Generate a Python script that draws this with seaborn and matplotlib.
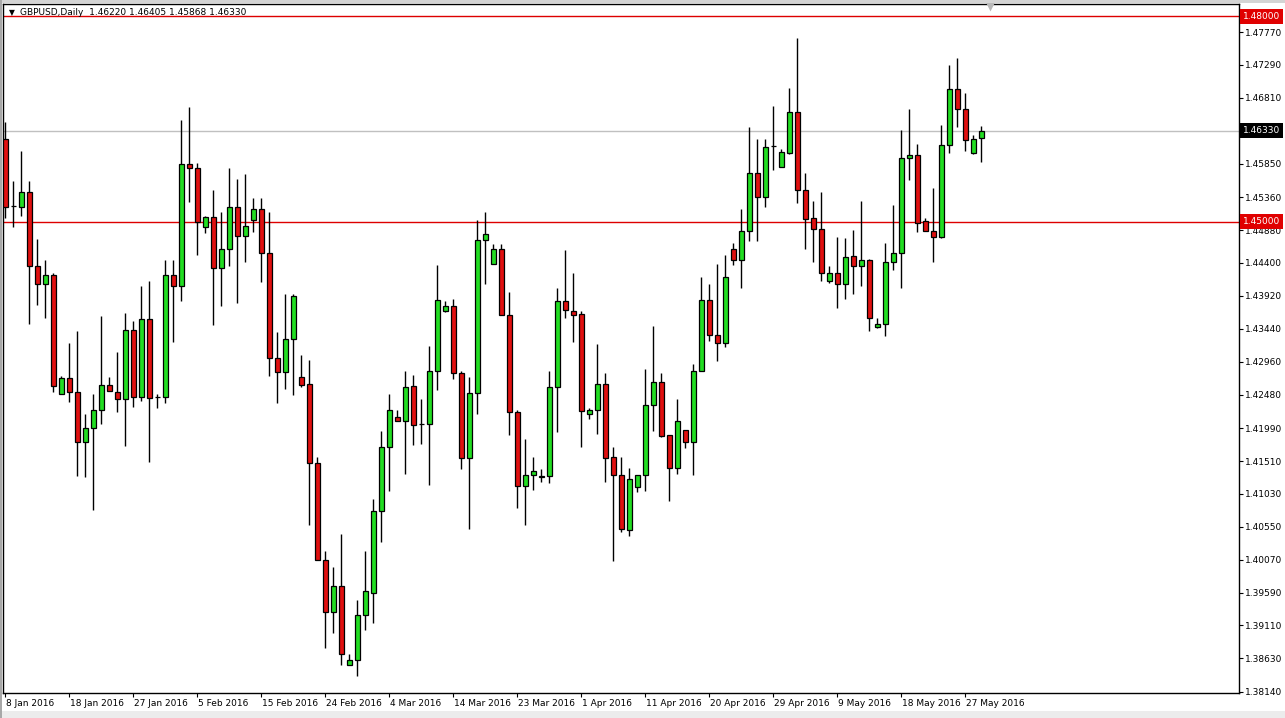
import numpy as np
import pandas as pd
import matplotlib
matplotlib.use("Agg")
import matplotlib.pyplot as plt
import matplotlib.transforms as mtransforms
from matplotlib.patches import Rectangle
import seaborn as sns

# ---------------- data (GBPUSD daily) ----------------
opens = [1.4621, 1.4523, 1.4522, 1.4543, 1.4435, 1.4409, 1.4423, 1.4249, 1.4272, 1.4251,
         1.4179, 1.4199, 1.4225, 1.4262, 1.4252, 1.4241, 1.4342, 1.4244, 1.4358, 1.4245,
         1.4244, 1.4423, 1.4406, 1.4585, 1.4578, 1.4493, 1.4507, 1.4433, 1.4460, 1.4521,
         1.4479, 1.4503, 1.4519, 1.4454, 1.4302, 1.4281, 1.4329, 1.4273, 1.4263, 1.4148,
         1.4006, 1.3930, 1.3968, 1.3853, 1.3861, 1.3926, 1.3959, 1.4078, 1.4172, 1.4215,
         1.4210, 1.4260, 1.4205, 1.4205, 1.4283, 1.4370, 1.4377, 1.4279, 1.4155, 1.4250,
         1.4474, 1.4439, 1.4461, 1.4364, 1.4222, 1.4115, 1.4131, 1.4127, 1.4129, 1.4259,
         1.4384, 1.4370, 1.4365, 1.4219, 1.4225, 1.4263, 1.4157, 1.4131, 1.4051, 1.4113,
         1.4131, 1.4233, 1.4266, 1.4189, 1.4141, 1.4196, 1.4179, 1.4283, 1.4386, 1.4335,
         1.4323, 1.4461, 1.4444, 1.4486, 1.4572, 1.4537, 1.4610, 1.4580, 1.4601, 1.4660,
         1.4546, 1.4505, 1.4490, 1.4414, 1.4425, 1.4410, 1.4450, 1.4435, 1.4444, 1.4346,
         1.4351, 1.4442, 1.4455, 1.4593, 1.4598, 1.4501, 1.4487, 1.4478, 1.4612, 1.4694,
         1.4665, 1.4601, 1.46220]
highs = [1.4646, 1.4559, 1.4604, 1.4560, 1.4475, 1.4445, 1.4426, 1.4275, 1.4323, 1.4341,
         1.4220, 1.4249, 1.4363, 1.4273, 1.4310, 1.4367, 1.4356, 1.4407, 1.4413, 1.4249,
         1.4444, 1.4444, 1.4649, 1.4668, 1.4586, 1.4509, 1.4547, 1.4515, 1.4578, 1.4563,
         1.4570, 1.4535, 1.4535, 1.4514, 1.4339, 1.4394, 1.4394, 1.4306, 1.4298, 1.4157,
         1.4019, 1.3997, 1.4044, 1.3869, 1.3948, 1.4019, 1.4095, 1.4195, 1.4249, 1.4226,
         1.4283, 1.4277, 1.4242, 1.4319, 1.4437, 1.4384, 1.4388, 1.4283, 1.4273, 1.4503,
         1.4514, 1.4467, 1.4467, 1.4397, 1.4226, 1.4183, 1.4157, 1.4140, 1.4282, 1.4404,
         1.4459, 1.4426, 1.4370, 1.4228, 1.4322, 1.4279, 1.4172, 1.4157, 1.4141, 1.4131,
         1.4286, 1.4348, 1.4279, 1.4189, 1.4242, 1.4196, 1.4293, 1.4419, 1.4410, 1.4439,
         1.4451, 1.4469, 1.4519, 1.4639, 1.4621, 1.4621, 1.4669, 1.4606, 1.4695, 1.4768,
         1.4572, 1.4530, 1.4543, 1.4435, 1.4478, 1.4477, 1.4488, 1.4530, 1.4446, 1.4359,
         1.4469, 1.4524, 1.4634, 1.4664, 1.4613, 1.4505, 1.4549, 1.4642, 1.4729, 1.4739,
         1.4688, 1.4627, 1.46405]
lows = [1.4506, 1.4493, 1.4509, 1.4351, 1.4378, 1.4360, 1.4251, 1.4249, 1.4237, 1.4129,
        1.4127, 1.4080, 1.4205, 1.4253, 1.4223, 1.4173, 1.4230, 1.4239, 1.4150, 1.4228,
        1.4236, 1.4325, 1.4384, 1.4529, 1.4451, 1.4484, 1.4349, 1.4377, 1.4435, 1.4382,
        1.4441, 1.4485, 1.4412, 1.4275, 1.4236, 1.4256, 1.4248, 1.4259, 1.4057, 1.4006,
        1.3878, 1.3900, 1.3853, 1.3853, 1.3837, 1.3904, 1.3914, 1.4033, 1.4107, 1.4210,
        1.4132, 1.4174, 1.4176, 1.4116, 1.4254, 1.4368, 1.4271, 1.4140, 1.4052, 1.4220,
        1.4409, 1.4439, 1.4364, 1.4189, 1.4082, 1.4057, 1.4108, 1.4121, 1.4119, 1.4194,
        1.4359, 1.4325, 1.4172, 1.4212, 1.4191, 1.4121, 1.4005, 1.4048, 1.4041, 1.4106,
        1.4107, 1.4195, 1.4186, 1.4092, 1.4132, 1.4170, 1.4131, 1.4283, 1.4326, 1.4297,
        1.4318, 1.4437, 1.4403, 1.4472, 1.4472, 1.4522, 1.4575, 1.4580, 1.4599, 1.4528,
        1.4460, 1.4442, 1.4413, 1.4411, 1.4374, 1.4388, 1.4394, 1.4406, 1.4341, 1.4345,
        1.4333, 1.4430, 1.4403, 1.4561, 1.4485, 1.4487, 1.4441, 1.4476, 1.4601, 1.4639,
        1.4603, 1.4599, 1.45868]
closes = [1.4522, 1.4523, 1.4543, 1.4435, 1.4409, 1.4423, 1.4260, 1.4272, 1.4251, 1.4179,
          1.4199, 1.4225, 1.4262, 1.4253, 1.4241, 1.4342, 1.4244, 1.4358, 1.4243, 1.4245,
          1.4423, 1.4406, 1.4585, 1.4578, 1.4500, 1.4507, 1.4433, 1.4460, 1.4521, 1.4479,
          1.4494, 1.4519, 1.4454, 1.4302, 1.4281, 1.4329, 1.4392, 1.4262, 1.4148, 1.4006,
          1.3930, 1.3968, 1.3870, 1.3861, 1.3927, 1.3961, 1.4078, 1.4172, 1.4226, 1.4210,
          1.4259, 1.4204, 1.4205, 1.4283, 1.4386, 1.4377, 1.4279, 1.4155, 1.4250, 1.4474,
          1.4483, 1.4461, 1.4364, 1.4222, 1.4115, 1.4131, 1.4136, 1.4129, 1.4259, 1.4384,
          1.4371, 1.4364, 1.4224, 1.4226, 1.4263, 1.4155, 1.4131, 1.4052, 1.4125, 1.4131,
          1.4233, 1.4266, 1.4188, 1.4141, 1.4209, 1.4179, 1.4283, 1.4386, 1.4335, 1.4323,
          1.4420, 1.4444, 1.4486, 1.4572, 1.4537, 1.4609, 1.4610, 1.4602, 1.4660, 1.4546,
          1.4504, 1.4490, 1.4426, 1.4425, 1.4410, 1.4449, 1.4435, 1.4444, 1.4359, 1.4351,
          1.4442, 1.4455, 1.4593, 1.4597, 1.4498, 1.4487, 1.4478, 1.4612, 1.4694, 1.4665,
          1.4619, 1.4621, 1.46330]

date_labels = ["8 Jan 2016", "18 Jan 2016", "27 Jan 2016", "5 Feb 2016", "15 Feb 2016",
               "24 Feb 2016", "4 Mar 2016", "14 Mar 2016", "23 Mar 2016", "1 Apr 2016",
               "11 Apr 2016", "20 Apr 2016", "29 Apr 2016", "9 May 2016", "18 May 2016",
               "27 May 2016"]
bars_per_label = 8
price_ticks = [1.47770, 1.47290, 1.46810, 1.46330, 1.45850, 1.45360, 1.44880, 1.44400,
               1.43920, 1.43440, 1.42960, 1.42480, 1.41990, 1.41510, 1.41030, 1.40550,
               1.40070, 1.39590, 1.39110, 1.38630, 1.38140]
level_lines = [1.48000, 1.45000]
bid_price = 1.46330
header = "GBPUSD,Daily  1.46220 1.46405 1.45868 1.46330"

df = pd.DataFrame({"open": opens, "high": highs, "low": lows, "close": closes})
df["pos"] = np.arange(len(df))

# ---------------- style ----------------
sns.set_theme(style="white")
plt.rcParams["font.family"] = ["DejaVu Sans"]
FS = 6.5
BULL = "#22dd22"
BEAR = "#e01010"
LEVEL = "#dd0000"

W, H = 1285, 718
fig = plt.figure(figsize=(W / 100, H / 100), dpi=100)
fig.patch.set_facecolor("white")

# window chrome
fig.patches.append(Rectangle((0, 1 - 3 / H), 1, 3 / H, transform=fig.transFigure,
                             fc="#d4d4d4", ec="none", zorder=0))
fig.patches.append(Rectangle((0, 0), 1, 7 / H, transform=fig.transFigure,
                             fc="#ececec", ec="none", zorder=0))
fig.patches.append(Rectangle((0, 0), 2 / W, 1, transform=fig.transFigure,
                             fc="#a8a8a8", ec="none", zorder=0))

x0, x1, ytop, ybot = 3, 1239, 4, 693
ax = fig.add_axes([x0 / W, 1 - ybot / H, (x1 - x0) / W, (ybot - ytop) / H])
ax.set_facecolor("white")

# wicks
ax.vlines(df["pos"], df["low"], df["high"], color="black", lw=1.0, zorder=2)
# bodies
body_lo = np.minimum(df["open"], df["close"])
body_h = np.maximum((df["close"] - df["open"]).abs(), 0.00001)
colors = np.where(df["close"] > df["open"], BULL,
                  np.where(df["close"] < df["open"], BEAR, "black"))
ax.bar(df["pos"], body_h, bottom=body_lo, width=0.62, color=colors,
       edgecolor="black", linewidth=0.9, zorder=3)

# horizontal levels
for lv in level_lines:
    ax.axhline(lv, color=LEVEL, lw=1.0, zorder=1)
ax.axhline(bid_price, color="#c0c0c0", lw=1.0, zorder=1)

ax.set_xlim(-0.29, (x1 - 5.3) / 8)
ax.set_ylim(1.38125, 1.48179)

# y axis on the right
ax.yaxis.tick_right()
ax.set_yticks(price_ticks)
ax.set_yticklabels([f"{v:.5f}" for v in price_ticks], fontsize=FS, color="black")
ax.tick_params(axis="y", which="major", direction="out", length=3, width=0.8,
               color="black", pad=1.5, right=True, left=False)

# x axis
xt = [i * bars_per_label for i in range(len(date_labels))]
ax.set_xticks(xt)
ax.set_xticklabels(date_labels, fontsize=FS, color="black")
ax.tick_params(axis="x", which="major", direction="out", length=3, width=0.8,
               color="black", pad=1.0, bottom=True)
offset = mtransforms.ScaledTranslation(0.5 / 72, 0, fig.dpi_scale_trans)
for lab in ax.get_xticklabels():
    lab.set_horizontalalignment("left")
    lab.set_transform(lab.get_transform() + offset)

for sp in ax.spines.values():
    sp.set_visible(True)
    sp.set_color("black")
    sp.set_linewidth(1.0)
ax.grid(False)

# price tags on the right scale
btrans = mtransforms.blended_transform_factory(ax.transAxes, ax.transData)
tag_x = 1.0 + (1243 - x1) / (x1 - x0)
for lv in level_lines:
    ax.text(tag_x, lv, f"{lv:.5f}", transform=btrans, ha="left", va="center",
            fontsize=FS, color="white", zorder=6, clip_on=False,
            bbox=dict(boxstyle="square,pad=0.32", fc="#e00000", ec="none"))
ax.text(tag_x, bid_price, f"{bid_price:.5f}", transform=btrans, ha="left", va="center",
        fontsize=FS, color="white", zorder=6, clip_on=False,
        bbox=dict(boxstyle="square,pad=0.32", fc="black", ec="none"))

# header
fig.text(9 / W, 1 - 12.5 / H, "\u25bc", fontsize=5.5, color="black", ha="left", va="center")
fig.text(20 / W, 1 - 12.5 / H, header, fontsize=FS, color="black", ha="left", va="center")

# chart-shift marker
ax.plot([(990 - x0) / (x1 - x0)], [1 - 2.5 / (ybot - ytop)], marker="v", ms=7,
        color="#b8b8b8", mec="none", transform=ax.transAxes, clip_on=False, zorder=7)

fig.savefig("out.png", dpi=100, facecolor=fig.get_facecolor())
